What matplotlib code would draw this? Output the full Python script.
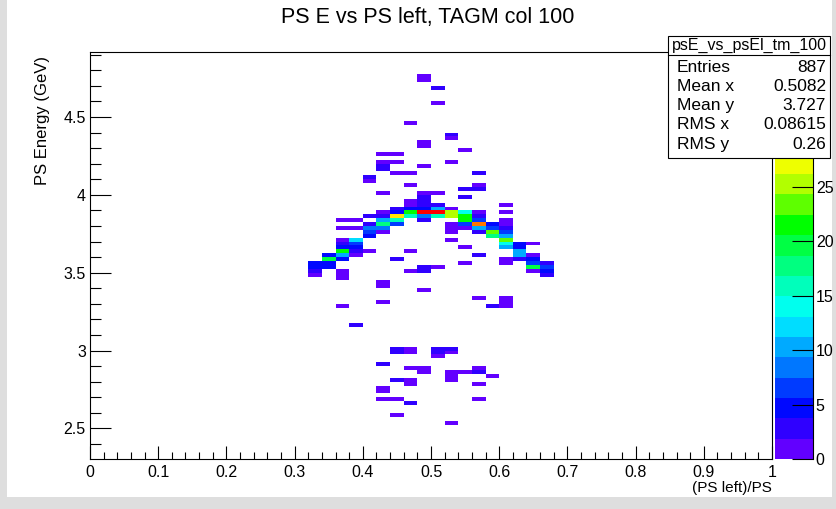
import colorsys
import numpy as np
import matplotlib
matplotlib.use("Agg")
import matplotlib.pyplot as plt
from matplotlib.colors import ListedColormap, BoundaryNorm
from matplotlib.patches import Rectangle
from matplotlib.lines import Line2D
from matplotlib.ticker import MultipleLocator, FuncFormatter

plt.rcParams['font.family'] = ['Liberation Sans', 'DejaVu Sans']

title = "PS E vs PS left, TAGM col 100"
x_title = "(PS left)/PS"
y_title = "PS Energy (GeV)"
stats_name = "psE_vs_psEl_tm_100"
stats_labels = ["Entries", "Mean x", "Mean y", "RMS x", "RMS y"]
stats_values = ["887", "0.5082", "3.727", "0.08615", "0.26"]

# histogram binning (50 bins in x, 0.025 GeV in y)
x_edges = np.linspace(0, 1, 51)
y_edges = np.round(np.arange(2.3, 4.95, 0.025), 4)

# filled cells: lower x edge, lower y edge, entries (one line per x column)
cell_x = ([0.32] * 4 + [0.34] * 4 + [0.36] * 12 + [0.38] * 8 + [0.40] * 8 +
          [0.42] * 18 + [0.44] * 14 + [0.46] * 16 + [0.48] * 18 + [0.50] * 11 +
          [0.52] * 16 + [0.54] * 11 + [0.56] * 15 + [0.58] * 6 + [0.60] * 15 +
          [0.62] * 5 + [0.64] * 6 + [0.66] * 4)
cell_y = [3.55, 3.525, 3.5, 3.475,
          3.6, 3.575, 3.55, 3.525,
          3.825, 3.775, 3.7, 3.675, 3.65, 3.625, 3.6, 3.575, 3.5, 3.475, 3.45, 3.275,
          3.825, 3.775, 3.7, 3.675, 3.65, 3.625, 3.6, 3.15,
          4.1, 4.075, 3.85, 3.8, 3.775, 3.75, 3.725, 3.625,
          4.25, 4.2, 4.175, 4.15, 4.0, 3.875, 3.85, 3.825, 3.8, 3.775, 3.75, 3.425, 3.4, 3.3, 2.9, 2.75, 2.725, 2.675,
          4.25, 4.2, 4.125, 3.9, 3.875, 3.85, 3.825, 3.8, 3.575, 3.0, 2.975, 2.8, 2.675, 2.575,
          4.45, 4.125, 4.05, 3.95, 3.925, 3.9, 3.875, 3.85, 3.625, 3.5, 3.0, 2.975, 2.875, 2.8, 2.775, 2.65,
          4.75, 4.725, 4.325, 4.3, 4.175, 4.0, 3.975, 3.95, 3.925, 3.9, 3.875, 3.85, 3.825, 3.525, 3.5, 3.375, 2.875, 2.85,
          4.675, 4.575, 4.0, 3.925, 3.9, 3.875, 3.85, 3.525, 3.0, 2.975, 2.95,
          4.375, 4.35, 4.2, 3.9, 3.875, 3.85, 3.8, 3.775, 3.75, 3.7, 3.0, 2.975, 2.85, 2.825, 2.8, 2.525,
          4.275, 4.025, 3.975, 3.875, 3.85, 3.825, 3.8, 3.775, 3.65, 3.55, 2.85,
          4.125, 4.05, 4.025, 3.875, 3.85, 3.825, 3.8, 3.775, 3.75, 3.6, 3.325, 2.875, 2.85, 2.775, 2.675,
          3.8, 3.775, 3.75, 3.725, 3.275, 2.825,
          3.925, 3.875, 3.825, 3.8, 3.775, 3.75, 3.725, 3.7, 3.675, 3.65, 3.575, 3.55, 3.325, 3.3, 3.275,
          3.675, 3.65, 3.625, 3.6, 3.575,
          3.675, 3.6, 3.575, 3.55, 3.525, 3.5,
          3.55, 3.525, 3.5, 3.475]
cell_n = [5, 5, 2, 1,
          5, 19, 5, 5,
          1, 1, 1, 2, 4, 21, 11, 4, 1, 1, 1, 1,
          1, 1, 12, 7, 5, 3, 1, 2,
          2, 1, 2, 2, 9, 7, 4, 1,
          1, 1, 2, 2, 1, 1, 2, 11, 17, 9, 1, 1, 1, 1, 2, 1, 1, 1,
          1, 1, 1, 2, 4, 29, 15, 7, 3, 3, 2, 2, 1, 1,
          1, 1, 1, 1, 1, 4, 21, 16, 1, 1, 1, 1, 1, 1, 1, 2,
          1, 1, 1, 1, 1, 1, 3, 3, 3, 4, 36, 9, 2, 3, 2, 1, 1, 1,
          2, 1, 1, 3, 11, 36, 15, 1, 2, 2, 1,
          2, 1, 1, 1, 25, 26, 1, 1, 1, 1, 2, 1, 1, 1, 1, 1,
          1, 2, 2, 14, 22, 21, 6, 1, 1, 1, 1,
          2, 1, 2, 1, 2, 6, 33, 11, 3, 3, 1, 1, 2, 1, 1,
          5, 6, 23, 17, 2, 1,
          1, 1, 1, 1, 2, 6, 11, 23, 14, 11, 1, 1, 1, 1, 1,
          4, 4, 11, 11, 3,
          1, 1, 5, 7, 19, 1,
          3, 6, 4, 3]

# palette: 20 contour bands, hue in degrees
z_max = 37.4
palette_hue = [263, 251, 238, 226, 212, 200, 188, 176, 164, 150,
               136, 120, 98, 78, 64, 54, 40, 28, 12, 0]
palette_ticks = [0, 5, 10, 15, 20, 25]   # 30 and 35 sit behind the stats box

W, H = 836, 509
def fx(px):
    return px / W
def fy(py):
    return 1 - py / H

fig = plt.figure(figsize=(W / 100, H / 100), dpi=100)

# grey window border
for rect in [(0, 0, fx(7), 1), (0, 0, 1, 12 / H), (fx(832), 0, 1 - fx(832), 1)]:
    fig.add_artist(Rectangle(rect[:2], rect[2], rect[3], transform=fig.transFigure,
                             facecolor='#dedede', edgecolor='none', zorder=0))

ax = fig.add_axes([fx(90), fy(459), (772 - 90) / W, (459 - 52) / H])
cax = fig.add_axes([fx(775), fy(459), (813 - 775) / W, (459 - 52) / H])

counts, _, _ = np.histogram2d(np.array(cell_x) + 0.01, np.array(cell_y) + 0.0125,
                              bins=[x_edges, y_edges], weights=cell_n)
counts = np.ma.masked_equal(counts, 0)

colors = [colorsys.hls_to_rgb(h / 360.0, 0.5, 1.0) for h in palette_hue]
cmap = ListedColormap(colors)
levels = np.linspace(0, z_max, len(colors) + 1)
norm = BoundaryNorm(levels, cmap.N)

mesh = ax.pcolormesh(x_edges, y_edges, counts.T, cmap=cmap, norm=norm)

ax.set_xlim(0, 1)
ax.set_ylim(2.304, 4.917)
fmt = FuncFormatter(lambda v, p: f"{v:g}")
ax.xaxis.set_major_locator(MultipleLocator(0.1))
ax.xaxis.set_minor_locator(MultipleLocator(0.02))
ax.yaxis.set_major_locator(MultipleLocator(0.5))
ax.yaxis.set_minor_locator(MultipleLocator(0.1))
ax.xaxis.set_major_formatter(fmt)
ax.yaxis.set_major_formatter(fmt)
ax.xaxis.set_tick_params(which='major', direction='in', length=9.2, width=0.8, pad=4, labelsize=11.5)
ax.xaxis.set_tick_params(which='minor', direction='in', length=4.7, width=0.8)
ax.yaxis.set_tick_params(which='major', direction='in', length=15, width=0.8, pad=3, labelsize=11.5)
ax.yaxis.set_tick_params(which='minor', direction='in', length=7.9, width=0.8)
ax.tick_params(top=False, right=False, which='both')
for s in ax.spines.values():
    s.set_linewidth(0.8)

cb = fig.colorbar(mesh, cax=cax, ticks=palette_ticks)
cb.outline.set_visible(False)
cb.minorticks_off()
cax.tick_params(direction='in', length=15, width=0.8, labelsize=11.5, pad=2)
cax.axvline(1, color='black', lw=0.8, clip_on=False)

fig.text(fx(428), fy(18), title, ha='center', va='center', fontsize=15.5)
fig.text(fx(42), fy(56), y_title, rotation=90, ha='center', va='top', fontsize=12)
fig.text(fx(772), fy(488), x_title, ha='right', va='center', fontsize=11)

# stats box
fig.add_artist(Rectangle((fx(668), fy(158)), (830 - 668) / W, (158 - 36) / H,
                         transform=fig.transFigure, facecolor='white',
                         edgecolor='black', lw=0.8, zorder=5))
fig.add_artist(Line2D([fx(668), fx(830)], [fy(55), fy(55)],
                      transform=fig.transFigure, color='black', lw=0.8, zorder=6))
fig.text(fx(749), fy(45.5), stats_name, ha='center', va='center', fontsize=11.5, zorder=7)
for k, (lab, val) in enumerate(zip(stats_labels, stats_values)):
    yy = fy(67 + 19.3 * k)
    fig.text(fx(677), yy, lab, ha='left', va='center', fontsize=12.5, zorder=7)
    fig.text(fx(826), yy, val, ha='right', va='center', fontsize=12.5, zorder=7)

fig.savefig("out.png", dpi=100)
